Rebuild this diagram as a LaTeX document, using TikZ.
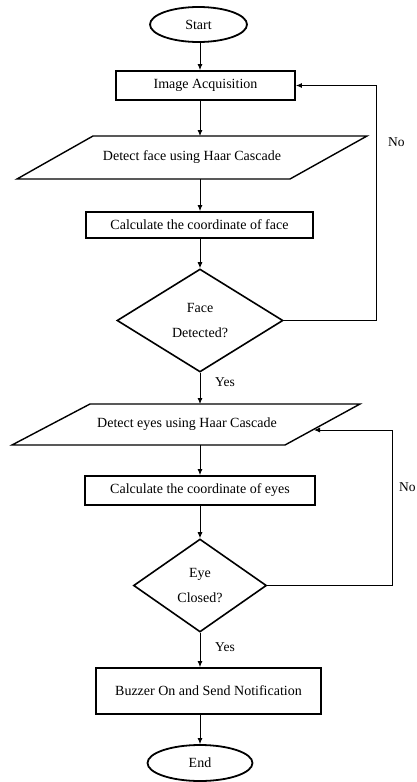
\documentclass[tikz,border=0pt]{standalone}
\usepackage{fontspec}
\setmainfont{Liberation Serif}
\usetikzlibrary{arrows.meta,shapes.geometric}
\begin{document}
\begin{tikzpicture}[x=1pt,y=-1pt,
  txt/.style={font=\fontsize{14}{25}\selectfont, inner sep=0pt, align=center},
  term/.style={ellipse, draw, line width=1.8pt, inner sep=0pt, font=\fontsize{14}{17}\selectfont},
  proc/.style={rectangle, draw, line width=1.8pt, inner sep=0pt, font=\fontsize{14}{17}\selectfont},
  dec/.style={diamond, draw, line width=1.6pt, inner sep=0pt, font=\fontsize{14}{25}\selectfont, align=center},
  shapeline/.style={line width=1.4pt, line join=miter},
  conn/.style={line width=0.9pt, -{Latex[length=6pt,width=5pt]}},
  lab/.style={font=\fontsize{13.5}{16}\selectfont, anchor=west, inner sep=0pt}]
\useasboundingbox (0,0) rectangle (416,782);
\coordinate (axis) at (200,0);
\coordinate (l1) at (376,0);
\coordinate (l2) at (392,0);

\node[term, minimum width=97pt, minimum height=35pt] (start) at (198.5,24.5) {Start};
\node[proc, minimum width=179pt, minimum height=29pt] (acq) at (205.5,85.5) {Image Acquisition};

\coordinate (f1) at (93,136);
\coordinate (f2) at (367,136);
\coordinate (f3) at (290,179);
\coordinate (f4) at (17,179);
\draw[shapeline] (f1) -- (f2) -- (f3) -- (f4) -- cycle;
\node[txt] (face) at (192,157.5) {Detect face using Haar Cascade};

\node[proc, minimum width=227pt, minimum height=26pt] (calcf) at (199.5,225) {Calculate the coordinate of face};
\node[dec, minimum width=166pt, minimum height=103pt] (fdia) at (200,320.5) {Face\\Detected?};

\coordinate (e1) at (90,404);
\coordinate (e2) at (360,404);
\coordinate (e3) at (285,445);
\coordinate (e4) at (12,445);
\draw[shapeline] (e1) -- (e2) -- (e3) -- (e4) -- cycle;
\node[txt] (eyes) at (187,424.5) {Detect eyes using Haar Cascade};
\coordinate (ein) at (314,430);

\node[proc, minimum width=230pt, minimum height=29pt] (calce) at (200,490.5) {Calculate the coordinate of eyes};
\node[dec, minimum width=133pt, minimum height=93pt] (edia) at (200,585.5) {Eye\\Closed?};
\node[proc, minimum width=225pt, minimum height=46pt] (buzz) at (208.5,691) {Buzzer On and Send Notification};
\node[term, minimum width=105pt, minimum height=36pt] (end) at (200,763) {End};

\draw[conn] (start.south -| axis) -- (axis |- acq.north);
\draw[conn] (acq.south -| axis) -- (axis |- f1);
\draw[conn] (axis |- f4) -- (axis |- calcf.north);
\draw[conn] (axis |- calcf.south) -- (fdia.north);
\draw[conn] (fdia.south) -- (axis |- e1);
\draw[conn] (axis |- e4) -- (calce.north);
\draw[conn] (calce.south) -- (edia.north);
\draw[conn] (edia.south) -- (axis |- buzz.north);
\draw[conn] (axis |- buzz.south) -- (end.north);

\draw[conn] (fdia.east) -- (fdia.east -| l1) -- (l1 |- acq.east) -- (acq.east);
\draw[conn] (edia.east) -- (edia.east -| l2) -- (l2 |- ein) -- (ein);

\node[lab] (no1) at (388,142) {No};
\node[lab] (no2) at (399,487) {No};
\node[lab] (yes1) at (215,382) {Yes};
\node[lab] (yes2) at (215,647) {Yes};
\end{tikzpicture}
\end{document}
